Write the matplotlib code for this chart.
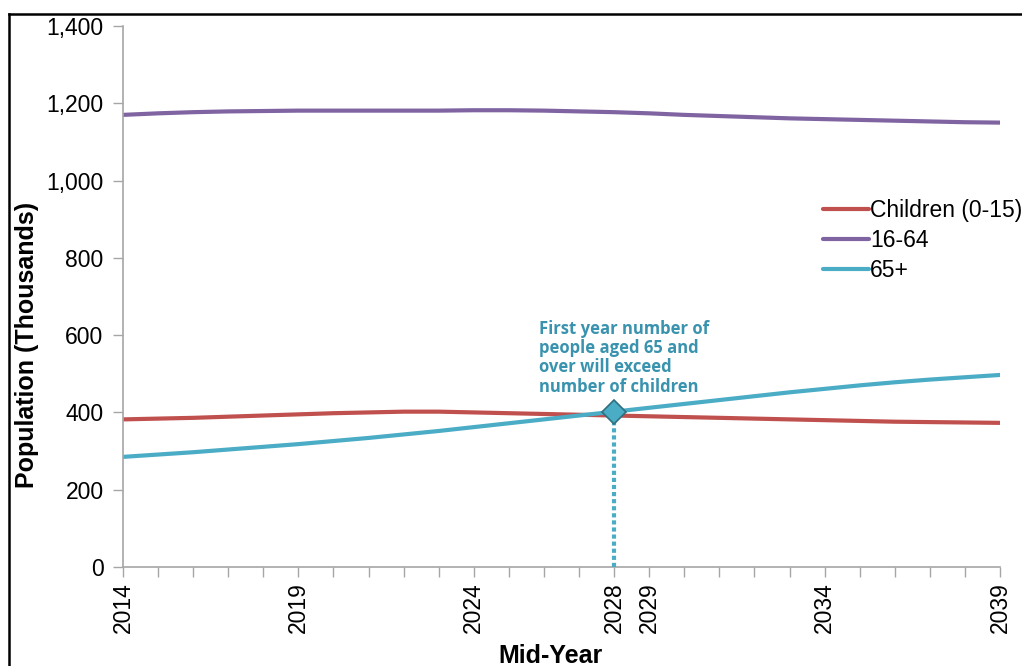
import matplotlib
matplotlib.use("Agg")
import matplotlib.pyplot as plt
from matplotlib.lines import Line2D
from matplotlib.ticker import FuncFormatter

# mid-year population projections (thousands)
years = list(range(2014, 2040))
children = [382, 384, 386, 389, 392, 395, 398, 400, 402, 402, 400, 398, 396, 394,
            392, 390, 388, 386, 384, 382, 380, 378, 376, 375, 374, 373]
working = [1170, 1174, 1177, 1179, 1180, 1181, 1181, 1181, 1181, 1181, 1182, 1182, 1181,
           1179, 1177, 1174, 1170, 1167, 1164, 1161, 1159, 1157, 1155, 1153, 1151, 1150]
older = [285, 291, 297, 304, 311, 318, 326, 334, 343, 352, 362, 372, 382, 392,
         402, 412, 422, 432, 442, 452, 461, 470, 478, 485, 491, 497]
labelled_years = [2014, 2019, 2024, 2028, 2029, 2034, 2039]
cross_year = 2028
note = "First year number of\npeople aged 65 and\nover will exceed\nnumber of children"

red = "#C0504D"
purple = "#8064A2"
teal = "#4BACC6"
grey = "#A6A6A6"

plt.rcParams["font.family"] = ["Liberation Sans", "DejaVu Sans"]

fig = plt.figure(figsize=(10.22, 6.66), dpi=100)
ax = fig.add_axes([123 / 1022, 1 - 567 / 666, (1000 - 123) / 1022, (567 - 26) / 666])

ax.plot(years, children, color=red, lw=3, label="Children (0-15)", solid_capstyle="round")
ax.plot(years, working, color=purple, lw=3, label="16-64", solid_capstyle="round")
ax.plot(years, older, color=teal, lw=3, label="65+", solid_capstyle="round")

# crossing point marker and drop line
i = years.index(cross_year)
ax.plot([cross_year, cross_year], [0, older[i]], color=teal, lw=3,
        linestyle=(0, (1, 0.7)), zorder=3)
ax.plot([cross_year], [older[i]], marker="D", markersize=12, color=teal,
        markeredgecolor="#2E6F80", markeredgewidth=1.2, zorder=4)
ax.text(2025.85, 640, note, color="#3A93AE", fontsize=12, fontweight="bold",
        family=["Open Sans", "DejaVu Sans"], va="top", ha="left", linespacing=1.1)

ax.set_xlim(2014, 2039)
ax.set_ylim(0, 1400)
ax.set_yticks(range(0, 1401, 200))
ax.yaxis.set_major_formatter(FuncFormatter(lambda v, p: f"{int(v):,}"))
ax.set_xticks(years, minor=True)
ax.set_xticks(labelled_years)
ax.set_xticklabels([str(y) for y in labelled_years], rotation=90)

for s in ["top", "right"]:
    ax.spines[s].set_visible(False)
for s in ["left", "bottom"]:
    ax.spines[s].set_color(grey)
    ax.spines[s].set_linewidth(1.2)
ax.tick_params(axis="y", colors=grey, labelcolor="black", labelsize=16.5, length=7, width=1, pad=7)
ax.tick_params(axis="x", which="both", colors=grey, labelcolor="black", labelsize=16.5,
               length=7, width=1, pad=4)

ax.set_ylabel("Population (Thousands)", fontsize=18, fontweight="bold", va="center")
ax.yaxis.set_label_coords(-0.109, 0.41)
ax.set_xlabel("Mid-Year", fontsize=18, fontweight="bold", va="center")
ax.xaxis.set_label_coords(0.487, -0.164)

ax.legend(loc="upper left", bbox_to_anchor=(814 / 1022, 1 - 190 / 666),
          bbox_transform=fig.transFigure, frameon=False, fontsize=16.5,
          handlelength=2.0, handletextpad=0.05, labelspacing=0.3, borderaxespad=0)

# outer chart frame
fig.add_artist(Line2D([8.5 / 1022, 8.5 / 1022], [0, 1 - 13.5 / 666], color="black", lw=1.8))
fig.add_artist(Line2D([8.5 / 1022, 1], [1 - 13.5 / 666, 1 - 13.5 / 666], color="black", lw=1.8))

fig.savefig("out.png", dpi=100)
